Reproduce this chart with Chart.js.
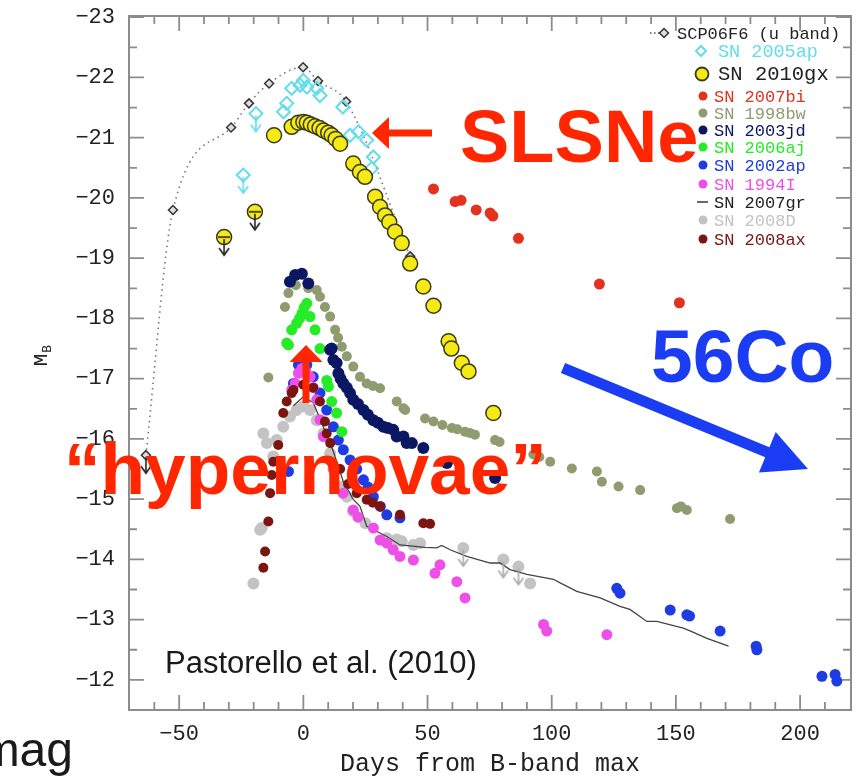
<!DOCTYPE html>
<html>
<head>
<meta charset="utf-8">
<script src="https://cdn.jsdelivr.net/npm/chart.js@4.4.1/dist/chart.umd.min.js"></script>
<style>
  html, body { margin: 0; padding: 0; background: #fff; }
  #wrap { width: 863px; height: 776px; }
</style>
</head>
<body>
<div id="wrap"><canvas id="lc" width="863" height="776"></canvas></div>
<script>
// axis ticks
const xTicks = [-50, 0, 50, 100, 150, 200];
const yTicks = [-23, -22, -21, -20, -19, -18, -17, -16, -15, -14, -13, -12];

// light curves: [days from B max, M_B]
const scp06f6 = [[-63.4, -15.73], [-52.5, -19.8], [-29.1, -21.17], [-21.9, -21.57], [-13.8, -21.9],
  [-0.1, -22.17], [5.9, -21.94], [17.2, -21.6], [43, -19.03]];
const scp06f6Lim = [[-63.4, -15.73]];

const sn2005ap = [[-8.0, -21.43], [-6.7, -21.57], [-4.7, -21.82], [-1.3, -21.87], [0, -21.95], [1.4, -21.84],
  [5.4, -21.82], [6.7, -21.7], [15.9, -21.51], [18.8, -21.04], [22.2, -21.1], [25.5, -20.96],
  [28.2, -20.68], [27.5, -20.49]];
const sn2005apLim = [[-19.1, -21.4], [-24.2, -20.38]];

const sn2010gx = [[-11.8, -21.04], [-4.7, -21.18], [-2, -21.25], [0, -21.26], [1.4, -21.25], [3, -21.22],
  [4.7, -21.19], [6.5, -21.16], [8.1, -21.12], [10, -21.08], [11.4, -21.04], [13, -20.98], [14.8, -20.9],
  [20.1, -20.57], [22.8, -20.43], [24.8, -20.35], [28.9, -20.02], [30.9, -19.85], [32.9, -19.71],
  [34.6, -19.6], [36.9, -19.44], [39.6, -19.25], [43, -18.91], [48.3, -18.53], [52.4, -18.21],
  [58.5, -17.62], [59.6, -17.5], [63.8, -17.26], [66.5, -17.12], [76.5, -16.43]];
const sn2010gxLim = [[-31.9, -19.35], [-19.5, -19.77]];

const sn2007bi = [[52.4, -20.15], [61.1, -19.94], [63.5, -19.96], [69.6, -19.8], [75.2, -19.75],
  [76.3, -19.7], [86.6, -19.33], [119.2, -18.57], [151.4, -18.26]];

const sn1998bw = [[-14.1, -17.02], [-7.4, -18.19], [-6, -18.42], [-3, -18.55], [2, -18.5], [5.4, -18.47],
  [6.7, -18.36], [8.7, -18.19], [10.8, -18.03], [12.8, -17.81], [14, -17.68], [15.5, -17.53],
  [17.5, -17.37], [20.1, -17.2], [22.8, -17.03], [25.5, -16.92], [28, -16.88], [30.9, -16.84],
  [37.6, -16.62], [40.3, -16.51], [41, -16.48], [49, -16.34], [52.4, -16.29], [56, -16.23],
  [59.8, -16.18], [62, -16.16], [65.1, -16.12], [67, -16.1], [69.1, -16.07], [77.2, -15.98],
  [79, -15.95], [92.6, -15.74], [95, -15.7], [99.4, -15.62], [108.1, -15.51], [118.2, -15.46],
  [120.2, -15.29], [126.9, -15.21], [135.6, -15.15], [150.4, -14.85], [152, -14.88], [154.4, -14.82],
  [171.8, -14.67]];

const sn2003jd = [[-5.4, -18.61], [-3.3, -18.72], [-0.6, -18.74], [2, -18.58], [10.8, -17.48], [11.4, -17.5],
  [12.1, -17.31], [13.4, -17.26], [14.1, -17.09], [15, -17.0], [16.1, -16.92], [17.5, -16.85],
  [18.8, -16.76], [20.1, -16.65], [22, -16.58], [24.2, -16.48], [26, -16.4], [28.2, -16.31],
  [30, -16.27], [32.2, -16.2], [34, -16.18], [36.2, -16.15], [37.6, -16.04], [40.3, -16.04],
  [41.6, -15.93], [43.7, -15.93], [48.3, -15.85], [57.8, -15.6], [77.2, -15.35]];

const sn2006aj = [[-6.7, -17.59], [-6, -17.56], [-4.7, -17.81], [-2.7, -17.92], [-1.5, -18.0], [-0.6, -18.08],
  [0.3, -18.18], [1.4, -18.25], [2.7, -18.03], [4.7, -17.81], [6.7, -17.5], [9.4, -16.97],
  [10.1, -16.87], [11.4, -16.62], [13.4, -16.43], [15.5, -16.12]];

const sn2002ap = [[-6, -15.46], [-4, -16.92], [-2, -17.23], [0, -17.28], [1.4, -17.23], [4, -17.03],
  [6.7, -16.76], [9.4, -16.48], [12.1, -16.2], [14.1, -15.98], [16.1, -15.82], [18.8, -15.65],
  [21.5, -15.5], [24.2, -15.32], [26, -15.2], [28.2, -15.04], [31, -14.88], [33.6, -14.74],
  [38.9, -14.69], [126.2, -13.52], [127.5, -13.44], [147.7, -13.16], [154.4, -13.08], [155.5, -13.06],
  [167.8, -12.81], [182.3, -12.56], [182.6, -12.5], [208.8, -12.06], [214.1, -12.09], [214.8, -11.98]];

const sn1994I = [[-4.7, -16.81], [-3.3, -16.92], [-2, -17.09], [-0.6, -17.17], [1, -17.12], [2.7, -17.03],
  [4, -16.85], [5.4, -16.65], [6.7, -16.32], [8.1, -16.04], [12, -15.5], [16, -15.1], [20.1, -14.82],
  [22, -14.7], [28.2, -14.52], [30.9, -14.32], [33.6, -14.27], [36.2, -14.16], [38.9, -14.05],
  [44.3, -13.99], [53, -13.77], [55, -13.91], [61.8, -13.63], [65.1, -13.36], [96.7, -12.92],
  [98, -12.81], [122.2, -12.75]];

const sn2007gr = [[-4, -16.55], [0, -16.7], [4, -16.6], [8, -16.2], [12, -15.8], [16, -15.3], [20, -15.0],
  [22.8, -14.88], [25.5, -14.55], [33.6, -14.38], [38.9, -14.24], [49, -14.2], [53.7, -14.19],
  [55.7, -14.23], [59.1, -14.16], [65.8, -14.05], [75.2, -13.94], [79.2, -13.94], [83.2, -13.83],
  [90, -13.75], [100.7, -13.67], [103.4, -13.61], [110.1, -13.47], [119.5, -13.36], [127.5, -13.22],
  [131.5, -13.17], [138.3, -12.97], [142.3, -12.97], [153, -12.86], [156.4, -12.8], [162.5, -12.69],
  [171.2, -12.56]];

const sn2008D = [[-20.1, -13.6], [-17.4, -14.49], [-16.8, -14.52], [-16.1, -16.09], [-14.7, -15.93],
  [-12.1, -15.71], [-10.7, -15.98], [-8.1, -16.2], [-5.4, -16.37], [-2.7, -16.48], [0, -16.54],
  [2.7, -16.48], [5.4, -16.31], [8.1, -16.09], [10.8, -15.76], [13.4, -15.49], [15.5, -15.21],
  [16.1, -15.1], [17.5, -15.04], [20, -14.8], [25, -14.6], [33.6, -14.35], [37.6, -14.33],
  [39.6, -14.3], [44.3, -14.24], [47, -14.27], [91.3, -13.6]];
const sn2008DLim = [[64.4, -14.19], [80.5, -14.0], [86.6, -13.88]];

const sn2008ax = [[-16.1, -13.86], [-15.4, -14.13], [-14.1, -14.63], [-13.4, -15.1], [-12.7, -15.4],
  [-12.1, -15.62], [-10.1, -15.9], [-8.1, -16.43], [-6.7, -16.62], [-4.7, -16.76], [-4, -16.81],
  [0, -16.9], [4, -16.85], [6.7, -16.62], [8.7, -16.29], [9.4, -16.09], [10.8, -15.93], [14.8, -15.5],
  [18, -15.25], [21.5, -15.1], [25.5, -14.99], [28, -14.94], [30.9, -14.88], [38.9, -14.74],
  [48.3, -14.6], [51, -14.59]];

const pts = arr => arr.map(p => ({ x: p[0], y: p[1] }));
const minus = v => (v < 0 ? '\u2212' + Math.abs(v) : String(v));

// little "upper limit" arrow drawn under a point
function limitArrow(color, bar) {
  const c = document.createElement('canvas');
  c.width = 18; c.height = 46;
  const g = c.getContext('2d');
  g.strokeStyle = color;
  g.lineWidth = 1.6;
  g.beginPath(); g.moveTo(9, 25); g.lineTo(9, 41); g.stroke();
  g.beginPath(); g.moveTo(4, 34); g.lineTo(9, 41); g.lineTo(14, 34); g.stroke();
  if (bar) { g.beginPath(); g.moveTo(3, 23); g.lineTo(15, 23); g.stroke(); }
  return c;
}

function dots(label, data, color, r, order) {
  return { label, data: pts(data), backgroundColor: color, borderColor: color, borderWidth: 0,
    pointRadius: r, pointHoverRadius: r, order, textColor: color };
}

const datasets = [
  { label: 'SCP06F6 (u band)', data: pts(scp06f6), showLine: true, borderColor: '#777', borderWidth: 1.6,
    borderDash: [1.5, 4], cubicInterpolationMode: 'monotone', pointStyle: 'rectRot', pointRadius: 4.5,
    pointBackgroundColor: '#ddd', pointBorderColor: '#333', pointBorderWidth: 1.5, order: 3, textColor: '#222' },
  { label: 'SN 2005ap', data: pts(sn2005ap.concat(sn2005apLim)), pointStyle: 'rectRot', pointRadius: 6.5,
    backgroundColor: 'rgba(255,255,255,0)', borderColor: '#63dde9', borderWidth: 2, order: 2, textColor: '#63dde9' },
  { label: 'SN 2010gx', data: pts(sn2010gx.concat(sn2010gxLim)), pointRadius: 7.5, backgroundColor: '#f6ea14',
    borderColor: '#3b3a18', borderWidth: 1.5, order: 1, textColor: '#222' },
  dots('SN 2007bi', sn2007bi, '#e3321f', 5.5, 4),
  dots('SN 1998bw', sn1998bw, '#8e9c70', 5, 9),
  dots('SN 2003jd', sn2003jd, '#0b1763', 6, 5),
  dots('SN 2006aj', sn2006aj, '#26ec26', 5.5, 5),
  dots('SN 2002ap', sn2002ap, '#1f3be3', 5.5, 8),
  dots('SN 1994I', sn1994I, '#ee4fe6', 5.5, 7),
  { label: 'SN 2007gr', data: pts(sn2007gr), showLine: true, borderColor: '#444', borderWidth: 1.3,
    pointRadius: 0, order: 9, textColor: '#222' },
  dots('SN 2008D', sn2008D.concat(sn2008DLim), '#c3c3c3', 6, 10),
  dots('SN 2008ax', sn2008ax, '#7b1512', 5, 6),
  // upper limit arrows
  { label: 'lim', data: pts(scp06f6Lim), pointStyle: limitArrow('#222', false), order: 0, lim: true },
  { label: 'lim', data: pts(sn2010gxLim), pointStyle: limitArrow('#222', true), order: 0, lim: true },
  { label: 'lim', data: pts(sn2005apLim), pointStyle: limitArrow('#63dde9', false), order: 0, lim: true },
  { label: 'lim', data: pts(sn2008DLim), pointStyle: limitArrow('#aaa', false), order: 0, lim: true }
];

// frame with inward ticks on all four sides
const frameTicks = {
  id: 'frameTicks',
  beforeDatasetsDraw(chart) {
    const { ctx, chartArea: a, scales: { x, y } } = chart;
    ctx.save();
    ctx.strokeStyle = '#8c8c8c';
    ctx.lineWidth = 2;
    ctx.strokeRect(a.left, a.top, a.right - a.left, a.bottom - a.top);
    ctx.lineWidth = 1.8;
    ctx.beginPath();
    for (let v = -60; v <= 210; v += 10) {
      const px = x.getPixelForValue(v);
      const len = v % 50 === 0 ? 15 : 8;
      ctx.moveTo(px, a.bottom); ctx.lineTo(px, a.bottom - len);
      ctx.moveTo(px, a.top); ctx.lineTo(px, a.top + len);
    }
    for (let v = -23; v < -11.6; v += 0.5) {
      const py = y.getPixelForValue(v);
      const len = Number.isInteger(v) ? 15 : 8;
      ctx.moveTo(a.left, py); ctx.lineTo(a.left + len, py);
      ctx.moveTo(a.right, py); ctx.lineTo(a.right - len, py);
    }
    ctx.stroke();
    ctx.restore();
  }
};

// legend in the top right corner
const legendBox = {
  id: 'legendBox',
  afterDatasetsDraw(chart) {
    const ctx = chart.ctx;
    const rowY = [33, 51, 74, 96, 113, 130, 147, 165, 184, 202, 220, 239];
    ctx.save();
    ctx.textBaseline = 'middle';
    chart.data.datasets.filter(d => !d.lim).forEach((d, i) => {
      const yy = rowY[i];
      let tx = 714, fs = 17;
      if (i === 0) {
        tx = 677;
        ctx.strokeStyle = '#555'; ctx.lineWidth = 1.4; ctx.setLineDash([1.5, 2.5]);
        ctx.beginPath(); ctx.moveTo(650, yy); ctx.lineTo(660, yy); ctx.stroke();
        ctx.setLineDash([]);
        ctx.fillStyle = '#ddd'; ctx.strokeStyle = '#333'; ctx.lineWidth = 1.5;
        ctx.beginPath(); ctx.moveTo(664, yy - 4.5); ctx.lineTo(668.5, yy); ctx.lineTo(664, yy + 4.5); ctx.lineTo(659.5, yy); ctx.closePath();
        ctx.fill(); ctx.stroke();
      } else if (i === 1) {
        tx = 718; fs = 18.5;
        ctx.strokeStyle = d.borderColor; ctx.lineWidth = 2;
        ctx.beginPath(); ctx.moveTo(701, yy - 5); ctx.lineTo(706, yy); ctx.lineTo(701, yy + 5); ctx.lineTo(696, yy); ctx.closePath();
        ctx.stroke();
      } else if (i === 2) {
        tx = 718; fs = 20.5;
        ctx.fillStyle = d.backgroundColor; ctx.strokeStyle = d.borderColor; ctx.lineWidth = 1.8;
        ctx.beginPath(); ctx.arc(702, yy, 6.5, 0, Math.PI * 2); ctx.fill(); ctx.stroke();
      } else if (d.showLine) {
        ctx.strokeStyle = d.borderColor; ctx.lineWidth = 1.6;
        ctx.beginPath(); ctx.moveTo(697, yy); ctx.lineTo(708, yy); ctx.stroke();
      } else {
        ctx.fillStyle = d.backgroundColor;
        ctx.beginPath(); ctx.arc(703, yy, 4.5, 0, Math.PI * 2); ctx.fill();
      }
      ctx.font = fs + 'px "Liberation Mono"';
      ctx.fillStyle = d.textColor;
      ctx.fillText(d.label, tx, yy + 1);
    });
    ctx.restore();
  }
};

function blockArrow(ctx, x0, y0, x1, y1, shaftW, headL, headW) {
  const L = Math.hypot(x1 - x0, y1 - y0);
  const ux = (x1 - x0) / L, uy = (y1 - y0) / L, nx = -uy, ny = ux;
  const bx = x1 - ux * headL, by = y1 - uy * headL;
  ctx.beginPath();
  ctx.moveTo(x0 + nx * shaftW / 2, y0 + ny * shaftW / 2);
  ctx.lineTo(bx + nx * shaftW / 2, by + ny * shaftW / 2);
  ctx.lineTo(bx + nx * headW / 2, by + ny * headW / 2);
  ctx.lineTo(x1, y1);
  ctx.lineTo(bx - nx * headW / 2, by - ny * headW / 2);
  ctx.lineTo(bx - nx * shaftW / 2, by - ny * shaftW / 2);
  ctx.lineTo(x0 - nx * shaftW / 2, y0 - ny * shaftW / 2);
  ctx.closePath();
  ctx.fill();
}

// slide annotations + y title
const notes = {
  id: 'notes',
  afterDraw(chart) {
    const ctx = chart.ctx;
    ctx.save();
    // y axis title M_B
    ctx.translate(41, 356);
    ctx.rotate(-Math.PI / 2);
    ctx.fillStyle = '#222';
    ctx.textBaseline = 'middle';
    ctx.font = '21px "Liberation Mono"';
    const mw = ctx.measureText('M').width;
    ctx.fillText('M', -mw / 2 - 4, 0);
    ctx.font = '13px "Liberation Mono"';
    ctx.fillText('B', mw / 2 - 3, 7);
    ctx.restore();

    ctx.save();
    ctx.textBaseline = 'alphabetic';
    ctx.fillStyle = '#ff2600';
    ctx.font = 'bold 74px "Liberation Sans"';
    ctx.fillText('SLSNe', 460, 162);
    blockArrow(ctx, 432, 133, 372, 133, 7, 17, 32);
    ctx.font = 'bold 73px "Liberation Sans"';
    ctx.fillText('\u201Chypernovae\u201D', 64, 494);
    blockArrow(ctx, 306, 403, 306, 345, 7, 17, 33);

    ctx.fillStyle = '#1a3cf2';
    ctx.font = 'bold 75px "Liberation Sans"';
    ctx.fillText('56Co', 651, 382);
    blockArrow(ctx, 563, 368, 808, 469, 11, 44, 44);

    ctx.fillStyle = '#1a1a1a';
    ctx.font = '31px "Liberation Sans"';
    ctx.fillText('Pastorello et al. (2010)', 165, 673);
    ctx.font = '48px "Liberation Sans"';
    ctx.textAlign = 'right';
    ctx.fillText('mag', 73, 766);
    ctx.restore();
  }
};

const tickFont = { family: '"Liberation Mono"', size: 22 };

new Chart(document.getElementById('lc'), {
  type: 'scatter',
  data: { datasets },
  options: {
    responsive: false,
    animation: false,
    devicePixelRatio: 1,
    layout: { padding: { top: 16, right: 12, left: 0, bottom: 0 } },
    plugins: { legend: { display: false }, tooltip: { enabled: false } },
    scales: {
      x: {
        type: 'linear', min: -70.2, max: 220.5,
        afterBuildTicks: s => { s.ticks = xTicks.map(v => ({ value: v })); },
        afterFit: s => { s.height = 66; s.paddingLeft = 0; s.paddingRight = 0; },
        grid: { display: false, drawTicks: false },
        border: { display: false },
        ticks: { font: tickFont, color: '#222', padding: 11, maxRotation: 0, autoSkip: false, callback: v => minus(v) },
        title: { display: true, text: 'Days from B-band max', color: '#222',
          font: { family: '"Liberation Mono"', size: 25, lineHeight: 0.9 }, padding: 0 }
      },
      y: {
        type: 'linear', min: -23.02, max: -11.5, reverse: true,
        afterBuildTicks: s => { s.ticks = yTicks.map(v => ({ value: v })); },
        afterFit: s => { s.width = 129; s.paddingTop = 0; s.paddingBottom = 0; },
        grid: { display: false, drawTicks: false },
        border: { display: false },
        ticks: { font: tickFont, color: '#222', padding: 14, autoSkip: false, callback: v => minus(v) }
      }
    }
  },
  plugins: [frameTicks, legendBox, notes]
});
</script>
</body>
</html>
